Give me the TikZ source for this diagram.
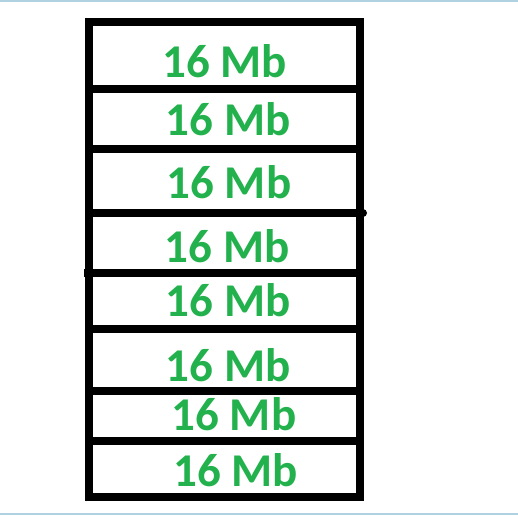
\documentclass[tikz,border=0pt]{standalone}
\usepackage{fontspec}
\setmainfont{Carlito}
\definecolor{mbgreen}{RGB}{34,177,76}
\definecolor{rulerblue}{RGB}{176,210,224}
\tikzset{
	mb/.style={anchor=base, text=mbgreen, font=\fontsize{47}{47}\selectfont\bfseries},
	wall/.style={line width=8pt}
}
\begin{document}
\begin{tikzpicture}[x=1pt, y=-1pt]
	\useasboundingbox (0,0) rectangle (518,515);
	\draw[rulerblue, line width=2pt] (0,1) -- (518,1);
	\draw[rulerblue, line width=2pt] (0,514) -- (518,514);

	\draw[wall] (89,22) rectangle (360,497);
	\draw[wall] (89,88.5) -- (360,88.5);
	\draw[wall] (89,149) -- (360,149);
	\draw[wall, line cap=round] (89,213) -- (363,213);
	\draw[wall] (84,273) -- (360,273);
	\draw[wall] (89,329) -- (360,329);
	\draw[wall] (89,391) -- (360,391);
	\draw[wall] (89,441) -- (360,441);

	\node[mb] (m1) at (224.5,77.3) {16 Mb};
	\node[mb] (m2) at (228,135.7) {16 Mb};
	\node[mb] (m3) at (229,198.3) {16 Mb};
	\node[mb] (m4) at (227,262) {16 Mb};
	\node[mb] (m5) at (228,316.7) {16 Mb};
	\node[mb] (m6) at (228,381) {16 Mb};
	\node[mb] (m7) at (234,430) {16 Mb};
	\node[mb] (m8) at (235.5,486.7) {16 Mb};
\end{tikzpicture}
\end{document}
